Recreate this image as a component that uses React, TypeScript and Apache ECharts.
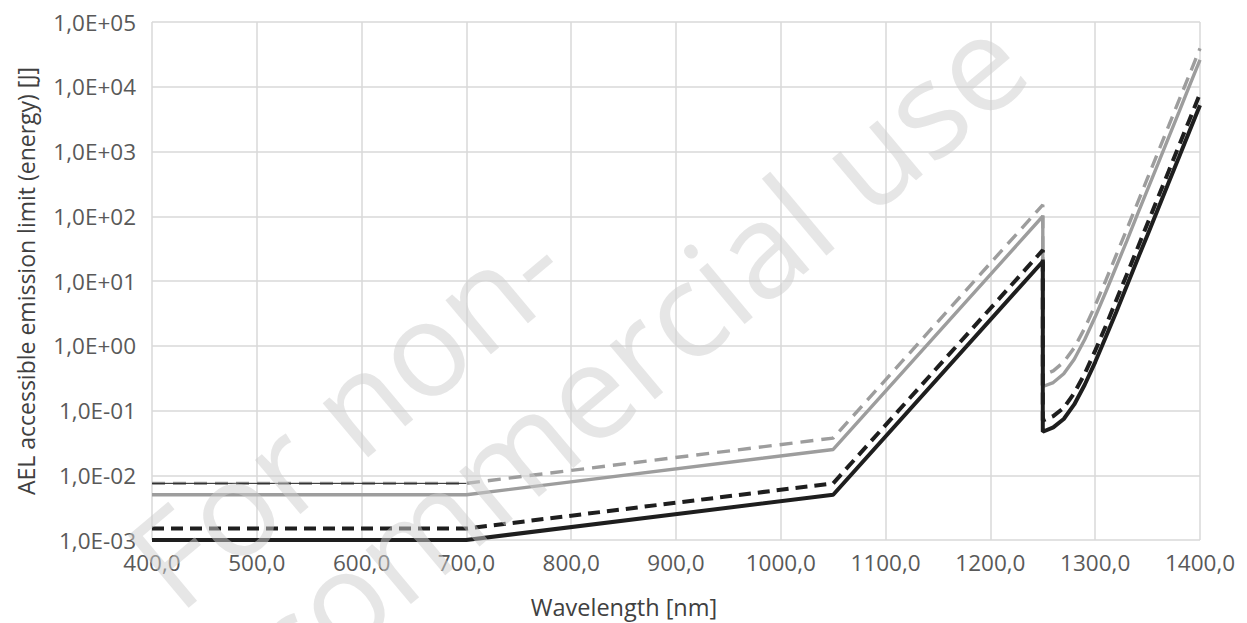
import React, { useEffect, useRef } from "react";
import * as echarts from "echarts";

const wavelengths = [400, 700, 1050, 1250, 1250, 1260, 1270, 1280, 1290, 1300, 1310, 1320, 1330, 1340, 1350, 1360, 1370, 1380, 1390, 1400];
const blackSolid = [0.001, 0.001, 0.005, 20, 0.047, 0.055, 0.074, 0.124, 0.25, 0.56, 1.35, 3.3, 8.3, 21, 52, 131, 330, 820, 2070, 5200];
const blackDashed = [0.0015, 0.0015, 0.0075, 30, 0.07, 0.082, 0.11, 0.186, 0.37, 0.84, 2.0, 5.0, 12.4, 31, 78, 196, 490, 1240, 3100, 7800];
const graySolid = [0.005, 0.005, 0.025, 100, 0.235, 0.27, 0.37, 0.62, 1.25, 2.8, 6.7, 16.6, 41, 104, 260, 650, 1640, 4100, 10400, 26000];
const grayDashed = [0.0075, 0.0075, 0.0375, 150, 0.35, 0.41, 0.56, 0.93, 1.87, 4.2, 10.1, 25, 62, 155, 390, 980, 2460, 6200, 15500, 39000];
const thinLineX = [400, 700];
const thinLineY = [0.0075, 0.0075];

const yTickLabels = ["1,0E-03", "1,0E-02", "1,0E-01", "1,0E+00", "1,0E+01", "1,0E+02", "1,0E+03", "1,0E+04", "1,0E+05"];
const xTickLabels = ["400,0", "500,0", "600,0", "700,0", "800,0", "900,0", "1000,0", "1100,0", "1200,0", "1300,0", "1400,0"];

const xTitle = "Wavelength [nm]";
const yTitle = "AEL accessible emission limit (energy) [J]";
const watermark1 = "For non-";
const watermark2 = "commercial use";

const FONT = "'Open Sans', 'Noto Sans', sans-serif";

function pairs(xs: number[], ys: number[]) {
  return xs.map((x, i) => [x, ys[i]]);
}

export default function App() {
  const ref = useRef<HTMLDivElement>(null);
  useEffect(() => {
    if (!ref.current) return;
    const chart = echarts.init(ref.current, undefined, { renderer: "svg" });
    const rot = (40 * Math.PI) / 180;
    chart.setOption({
      animation: false,
      backgroundColor: "#ffffff",
      grid: { left: 152, right: 47, top: 22, bottom: 83 },
      xAxis: {
        type: "value",
        min: 400,
        max: 1400,
        interval: 100,
        axisLine: { show: false },
        axisTick: { show: false },
        splitLine: { show: true, lineStyle: { color: "#d9d9d9", width: 1.5 } },
        axisLabel: {
          margin: 11,
          color: "#595959",
          fontSize: 22.5,
          fontFamily: FONT,
          formatter: (v: number) => xTickLabels[Math.round((v - 400) / 100)] ?? "",
        },
      },
      yAxis: {
        type: "log",
        logBase: 10,
        min: 0.001,
        max: 100000,
        splitNumber: 8,
        axisLine: { show: false },
        axisTick: { show: false },
        splitLine: { show: true, lineStyle: { color: "#d9d9d9", width: 1.5 } },
        axisLabel: {
          margin: 16,
          color: "#595959",
          fontSize: 22.5,
          fontFamily: FONT,
          formatter: (v: number) => yTickLabels[Math.round(Math.log10(v)) + 3] ?? "",
        },
      },
      series: [
        {
          type: "line",
          name: "gray solid",
          data: pairs(wavelengths, graySolid),
          showSymbol: false,
          symbol: "none",
          lineStyle: { color: "#9d9d9d", width: 3.4 },
          z: 2,
        },
        {
          type: "line",
          name: "gray dashed",
          data: pairs(wavelengths, grayDashed),
          showSymbol: false,
          symbol: "none",
          lineStyle: { color: "#9d9d9d", width: 3.4, type: [13, 8] },
          z: 3,
        },
        {
          type: "line",
          name: "black solid",
          data: pairs(wavelengths, blackSolid),
          showSymbol: false,
          symbol: "none",
          lineStyle: { color: "#1e1e1e", width: 4 },
          z: 4,
        },
        {
          type: "line",
          name: "black dashed",
          data: pairs(wavelengths, blackDashed),
          showSymbol: false,
          symbol: "none",
          lineStyle: { color: "#1e1e1e", width: 4, type: [12, 7] },
          z: 5,
        },
        {
          type: "line",
          name: "thin",
          data: pairs(thinLineX, thinLineY),
          showSymbol: false,
          symbol: "none",
          lineStyle: { color: "#1e1e1e", width: 1 },
          z: 6,
        },
      ],
      graphic: [
        {
          type: "text",
          x: 624,
          y: 607,
          style: { text: xTitle, fontSize: 23.5, fontFamily: FONT, fill: "#404040", align: "center", verticalAlign: "middle" },
        },
        {
          type: "text",
          x: 26,
          y: 281,
          rotation: Math.PI / 2,
          style: { text: yTitle, fontSize: 23, fontFamily: FONT, fill: "#404040", align: "center", verticalAlign: "middle" },
        },
        {
          type: "text",
          x: 345,
          y: 410,
          rotation: rot,
          z: 100,
          style: { text: watermark1, fontSize: 132, fontFamily: FONT, fill: "rgba(205,205,205,0.5)", align: "center", verticalAlign: "middle" },
        },
        {
          type: "text",
          x: 632,
          y: 352,
          rotation: rot,
          z: 100,
          style: { text: watermark2, fontSize: 132, fontFamily: FONT, fill: "rgba(205,205,205,0.5)", align: "center", verticalAlign: "middle" },
        },
      ],
    });
    return () => chart.dispose();
  }, []);
  return <div ref={ref} style={{ position: "fixed", left: 0, top: 0, width: 1247, height: 623 }} />;
}
